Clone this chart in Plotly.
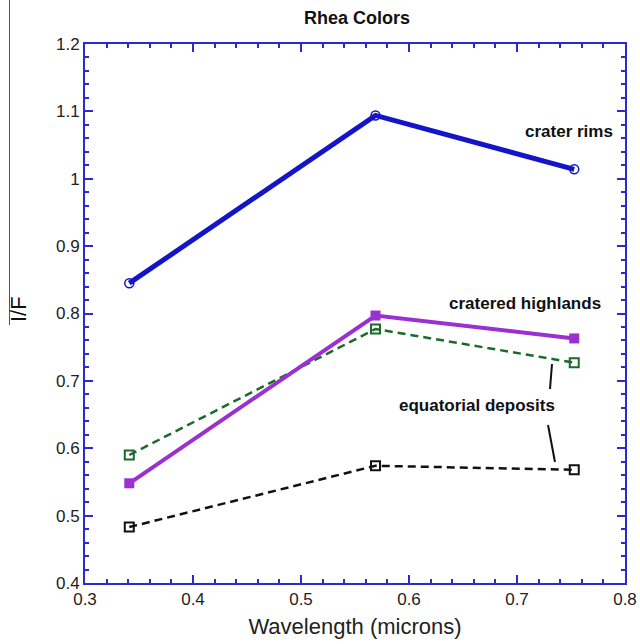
import plotly.graph_objects as go

wavelength = [0.341, 0.569, 0.753]
crater_rims = [0.845, 1.094, 1.014]
cratered_highlands = [0.548, 0.797, 0.763]
equatorial_green = [0.590, 0.777, 0.727]
equatorial_black = [0.483, 0.574, 0.568]

W, H = 640, 644
L, R, T, B = 85, 625, 44, 583

def px(xp):
    return (xp - L) / (R - L)

def py(yp):
    return (B - yp) / (B - T)

fig = go.Figure()
fig.add_trace(go.Scatter(x=wavelength, y=equatorial_black, mode="lines+markers",
                         line=dict(color="#111111", width=2.5, dash="8px,5px"),
                         marker=dict(symbol="square-open", size=9, color="#111111", line=dict(width=2))))
fig.add_trace(go.Scatter(x=wavelength, y=equatorial_green, mode="lines+markers",
                         line=dict(color="#1b6a2a", width=2.5, dash="8px,5px"),
                         marker=dict(symbol="square-open", size=9, color="#1b6a2a", line=dict(width=2))))
fig.add_trace(go.Scatter(x=wavelength, y=cratered_highlands, mode="lines+markers",
                         line=dict(color="#9a30d0", width=4),
                         marker=dict(symbol="square", size=10, color="#9a30d0")))
fig.add_trace(go.Scatter(x=wavelength, y=crater_rims, mode="lines+markers",
                         line=dict(color="#1414c8", width=5),
                         marker=dict(symbol="circle-open", size=9, color="#1414c8", line=dict(width=1.5))))

axis_common = dict(showgrid=False, zeroline=False, showline=True, linecolor="#2a2ad0", linewidth=2,
                   mirror="allticks", ticks="inside", ticklen=8, tickwidth=1.5, tickcolor="#2a2ad0",
                   automargin=False,
                   tickfont=dict(family="Liberation Sans, Arial", size=17, color="#222222"))

fig.update_xaxes(range=[0.3, 0.8], dtick=0.1, tick0=0.3,
                 minor=dict(dtick=0.02, ticks="inside", ticklen=4, tickcolor="#2a2ad0", tickwidth=1.5),
                 title=dict(text="Wavelength (microns)", font=dict(family="Liberation Sans, Arial", size=22, color="#222222"), standoff=10),
                 **axis_common)
fig.update_yaxes(range=[0.4, 1.2], dtick=0.1, tick0=0.4,
                 minor=dict(dtick=0.02, ticks="inside", ticklen=4, tickcolor="#2a2ad0", tickwidth=1.5),
                 **axis_common)

fig.update_layout(
    width=W, height=H, showlegend=False,
    plot_bgcolor="white", paper_bgcolor="white",
    margin=dict(l=L, r=W - R, t=T, b=H - B, autoexpand=False),
    title=dict(text="<b>Rhea Colors</b>", x=357 / W, xanchor="center", y=1 - 18 / H, yanchor="middle",
               font=dict(family="Liberation Sans, Arial", size=18, color="#111111")),
)

ann_font = dict(family="Liberation Sans, Arial", size=17, color="#111111")
fig.add_annotation(x=px(569), y=py(131), xref="paper", yref="paper", text="<b>crater rims</b>",
                   showarrow=False, font=ann_font, xanchor="center", yanchor="middle")
fig.add_annotation(x=px(525), y=py(303), xref="paper", yref="paper", text="<b>cratered highlands</b>",
                   showarrow=False, font=ann_font, xanchor="center", yanchor="middle")
fig.add_annotation(x=px(477), y=py(406), xref="paper", yref="paper", text="<b>equatorial deposits</b>",
                   showarrow=False, font=ann_font, xanchor="center", yanchor="middle")
fig.add_annotation(x=px(18), y=py(309), xref="paper", yref="paper", text="I/F", textangle=-90,
                   showarrow=False, font=dict(family="Liberation Sans, Arial", size=22, color="#111111"),
                   xanchor="center", yanchor="middle")

fig.add_shape(type="line", xref="paper", yref="paper", x0=px(552), y0=py(364), x1=px(550), y1=py(389),
              line=dict(color="#111111", width=2))
fig.add_shape(type="line", xref="paper", yref="paper", x0=px(548), y0=py(425), x1=px(555), y1=py(462),
              line=dict(color="#111111", width=2))
fig.add_shape(type="line", xref="paper", yref="paper", x0=px(9.5), y0=py(0), x1=px(9.5), y1=py(325),
              line=dict(color="#555555", width=1))

fig.write_html("out.html")
